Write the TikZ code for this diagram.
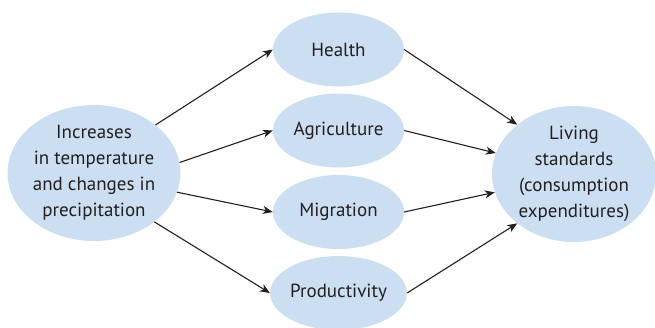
\documentclass[tikz,border=0pt]{standalone}
\usepackage{fontspec}
\setmainfont{PT Sans}
\usetikzlibrary{shapes.geometric,arrows.meta}
\definecolor{bubble}{RGB}{204,223,242}
\definecolor{ink}{RGB}{35,31,32}
\tikzset{
  bub/.style={ellipse,fill=bubble,draw=none,inner sep=0pt,text=ink,align=center,
    font=\fontsize{19}{26}\selectfont},
  mid/.style={bub,minimum width=131pt,minimum height=74pt},
  big/.style={bub,minimum width=168pt,minimum height=136pt},
  arr/.style={draw=ink,line width=1.1pt,-{Stealth[length=10pt,width=8pt,inset=3pt]}}
}
\begin{document}
\begin{tikzpicture}[x=1pt,y=-1pt]
\useasboundingbox (0,0) rectangle (655,327);
\node[big] (src) at (94,173) {Increases\\in temperature\\and changes in\\precipitation};
\node[big,minimum width=164pt] (dst) at (574,174) {Living\\standards\\(consumption\\expenditures)};
\node[mid] (hea) at (338.5,49.5) {Health};
\node[mid] (agr) at (338.5,130.5) {Agriculture};
\node[mid] (mig) at (338.5,212) {Migration};
\node[mid] (pro) at (338.5,293) {Productivity};
\draw[arr] (src.38) -- (hea.west);
\draw[arr] (src.7) -- (agr.west);
\draw[arr] (src.-13) -- (mig.west);
\draw[arr] (src.-39) -- (pro.west);
\draw[arr] (hea.east) -- (dst.139);
\draw[arr] (agr.east) -- (dst.165);
\draw[arr] (mig.east) -- (dst.193);
\draw[arr] (pro.east) -- (dst.221);
\end{tikzpicture}
\end{document}
